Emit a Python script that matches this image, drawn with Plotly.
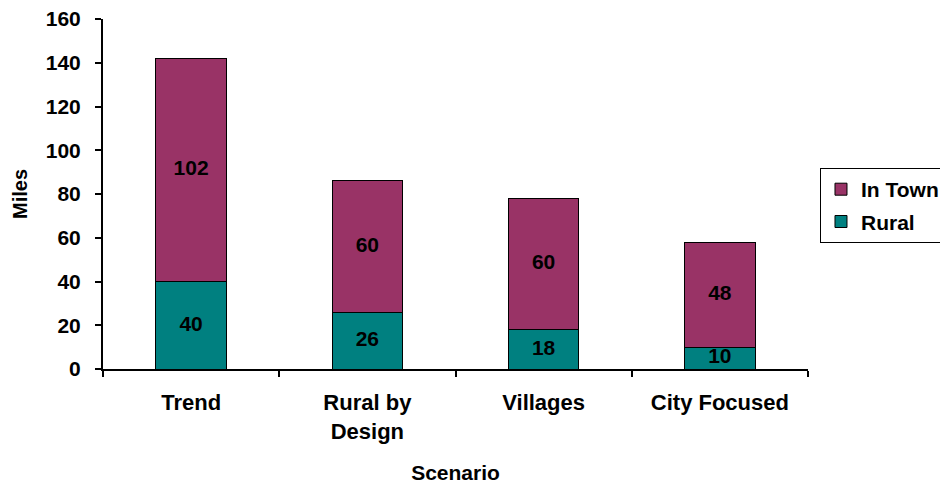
import plotly.graph_objects as go

categories = ["Trend", "Rural by<br>Design", "Villages", "City Focused"]
rural = [40, 26, 18, 10]
in_town = [102, 60, 60, 48]
y_ticks = [0, 20, 40, 60, 80, 100, 120, 140, 160]

FONT = "Liberation Sans, Arial, sans-serif"

fig = go.Figure()
fig.add_trace(go.Bar(
    x=categories, y=rural, name="Rural", legendgroup="r", legendrank=2,
    marker=dict(color="#008080", line=dict(color="black", width=1)),
    width=0.4,
))
fig.add_trace(go.Bar(
    x=categories, y=in_town, name="In Town", legendgroup="t", legendrank=1,
    marker=dict(color="#993366", line=dict(color="black", width=1)),
    width=0.4,
))

# data labels centred in each segment (positions derived from the data)
rural_mid = [r / 2 for r in rural]
town_mid = [r + t / 2 for r, t in zip(rural, in_town)]
fig.add_trace(go.Scatter(
    x=categories, y=rural_mid, mode="text", text=[str(v) for v in rural],
    textposition="middle center", showlegend=False, hoverinfo="skip",
    textfont=dict(family=FONT, size=21, color="black", weight="bold"),
))
fig.add_trace(go.Scatter(
    x=categories, y=town_mid, mode="text", text=[str(v) for v in in_town],
    textposition="middle center", showlegend=False, hoverinfo="skip",
    textfont=dict(family=FONT, size=21, color="black", weight="bold"),
))

fig.update_layout(
    barmode="stack",
    width=940, height=484,
    margin=dict(l=103, r=132, t=19, b=115, autoexpand=False),
    paper_bgcolor="white", plot_bgcolor="white",
    font=dict(family=FONT, size=21, color="black", weight="bold"),
    showlegend=True,
    legend=dict(
        x=1.0170, y=0.467, xanchor="left", yanchor="middle",
        traceorder="grouped", tracegroupgap=2,
        bordercolor="black", borderwidth=1,
        font=dict(family=FONT, size=21, color="black", weight="bold"),
        bgcolor="white",
    ),
)
fig.update_xaxes(
    showline=True, linecolor="black", linewidth=2,
    ticks="outside", tickson="boundaries", ticklen=6, tickwidth=2, tickcolor="black",
    ticklabelstandoff=13,
    tickfont=dict(family=FONT, size=22, weight="bold"),
    title=dict(text="Scenario", font=dict(family=FONT, size=21, weight="bold"), standoff=28),
    showgrid=False,
)
fig.update_yaxes(
    range=[0, 160], tickvals=y_ticks,
    showline=True, linecolor="black", linewidth=2,
    ticks="outside", ticklen=6, tickwidth=2, tickcolor="black",
    ticklabelstandoff=10,
    tickfont=dict(family=FONT, size=21, weight="bold"),
    title=dict(text="Miles", font=dict(family=FONT, size=20, weight="bold"), standoff=13),
    showgrid=False, zeroline=False,
)

fig.write_html("out.html")
